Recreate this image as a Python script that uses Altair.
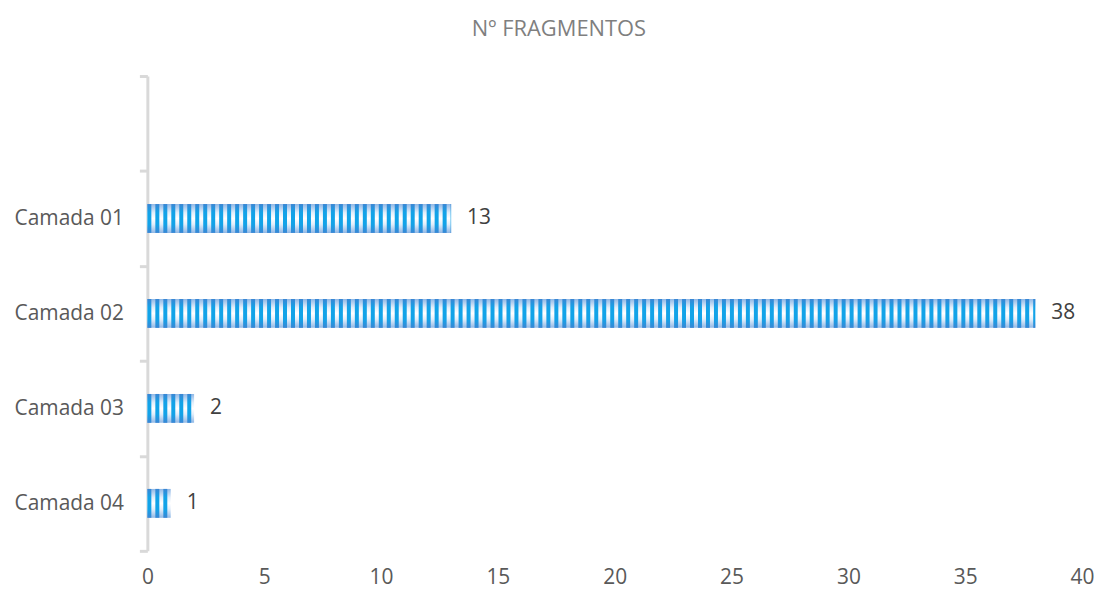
import altair as alt
import numpy as np
import pandas as pd

categories = ["Camada 01", "Camada 02", "Camada 03", "Camada 04"]
values = [13, 38, 2, 1]
y_domain = [""] + categories
x_ticks = [0, 5, 10, 15, 20, 25, 30, 35, 40]

df = pd.DataFrame({"cat": categories, "val": values})

# vertical stripe pattern (decoration) built from the bar values
period = 40 / 937 * 8
rows = []
for c, v in zip(categories, values):
    for s in np.arange(0, v, period):
        rows.append({"cat": c, "s": float(s), "e": float(min(s + period * 0.5, v))})
stripes = pd.DataFrame(rows)

FONT = "Open Sans"

base_grad = alt.LinearGradient(
    gradient="linear", x1=0, x2=0, y1=0, y2=1,
    stops=[
        alt.GradientStop(color="#8fb8e6", offset=0),
        alt.GradientStop(color="#e3eefa", offset=0.3),
        alt.GradientStop(color="#ffffff", offset=0.5),
        alt.GradientStop(color="#e3eefa", offset=0.7),
        alt.GradientStop(color="#8fb8e6", offset=1),
    ],
)
stripe_grad = alt.LinearGradient(
    gradient="linear", x1=0, x2=0, y1=0, y2=1,
    stops=[
        alt.GradientStop(color="#3a86d4", offset=0),
        alt.GradientStop(color="#12a3e8", offset=0.3),
        alt.GradientStop(color="#12a3e8", offset=0.7),
        alt.GradientStop(color="#3a86d4", offset=1),
    ],
)

y_enc = alt.Y(
    "cat:N",
    scale=alt.Scale(domain=y_domain, paddingInner=0, paddingOuter=0),
    axis=alt.Axis(
        title=None, grid=False,
        domainColor="#d9d9d9", domainWidth=3,
        tickColor="#d9d9d9", tickWidth=3, tickSize=8, tickBand="extent",
        labelPadding=16, labelFont=FONT, labelFontSize=21, labelColor="#595959",
    ),
)
x_scale = alt.Scale(domain=[0, 40], nice=False, zero=True)
x_axis = alt.Axis(
    title=None, grid=False, domain=False, ticks=False, values=x_ticks,
    labelFlush=False, labelOverlap=False,
    labelPadding=16, labelFont=FONT, labelFontSize=21, labelColor="#595959",
)

bars = alt.Chart(df).mark_bar(size=29, color=base_grad).encode(
    x=alt.X("val:Q", scale=x_scale, axis=x_axis), y=y_enc
)
stripe_layer = alt.Chart(stripes).mark_bar(size=29, color=stripe_grad).encode(
    x=alt.X("s:Q", scale=x_scale), x2="e:Q", y=alt.Y("cat:N")
)
labels = alt.Chart(df).mark_text(
    align="left", baseline="middle", dx=16, font=FONT, fontSize=21, color="#404040"
).encode(x=alt.X("val:Q", scale=x_scale), y=alt.Y("cat:N"), text="val:Q")

chart = (
    alt.layer(bars, stripe_layer, labels)
    .properties(
        width=939, height=477,
        autosize="none",
        padding={"left": 140, "top": 67, "right": 12, "bottom": 40},
        title=alt.TitleParams(
            "Nº FRAGMENTOS", font=FONT, fontSize=22, fontWeight="normal",
            color="#7f7f7f", anchor="middle", dx=-56, offset=24,
        ),
    )
    .configure_view(stroke=None)
)

chart.save("out.html", embed_options={"renderer": "svg", "actions": False})
